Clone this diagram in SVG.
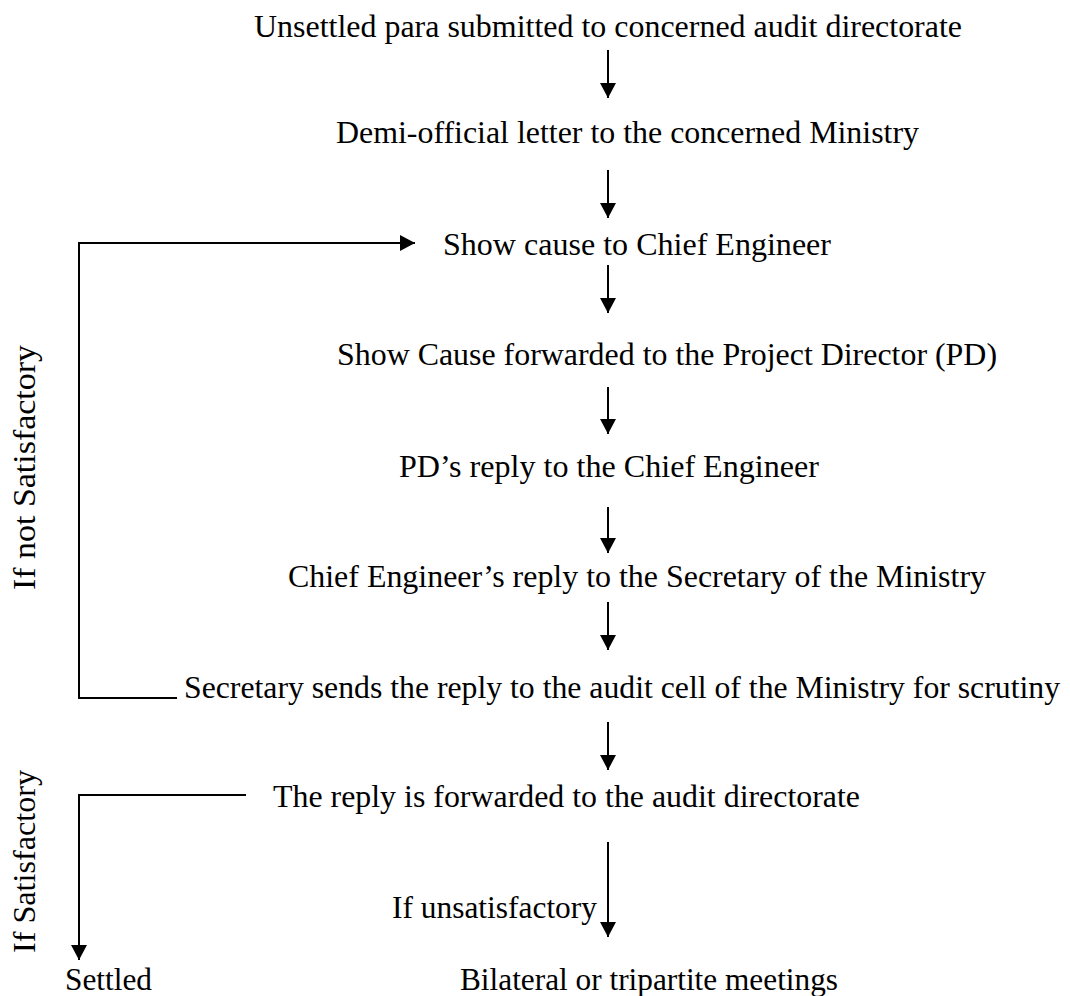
<svg xmlns="http://www.w3.org/2000/svg" width="1070" height="996" viewBox="0 0 1070 996">
<style>
text{font-family:"Liberation Serif","Times New Roman",serif;font-size:32px;fill:#000}
.c line,.c polyline{stroke:#000;stroke-width:2;fill:none}
</style>
<defs>
<marker id="ah" viewBox="0 0 15 16" refX="15" refY="8" markerWidth="15" markerHeight="16" markerUnits="userSpaceOnUse" orient="auto">
<path d="M0,0 L15,8 L0,16 Z" fill="#000"/>
</marker>
</defs>
<rect width="1070" height="996" fill="#fff"/>
<g id="n1"><text x="254" y="37" textLength="708" lengthAdjust="spacingAndGlyphs">Unsettled para submitted to concerned audit directorate</text></g>
<g id="n2"><text x="336" y="143" textLength="583" lengthAdjust="spacingAndGlyphs">Demi-official letter to the concerned Ministry</text></g>
<g id="n3"><text x="443" y="255" textLength="388" lengthAdjust="spacingAndGlyphs">Show cause to Chief Engineer</text></g>
<g id="n4"><text x="337" y="365" textLength="660" lengthAdjust="spacingAndGlyphs">Show Cause forwarded to the Project Director (PD)</text></g>
<g id="n5"><text x="399" y="477" textLength="420" lengthAdjust="spacingAndGlyphs">PD’s reply to the Chief Engineer</text></g>
<g id="n6"><text x="288" y="587" textLength="698" lengthAdjust="spacingAndGlyphs">Chief Engineer’s reply to the Secretary of the Ministry</text></g>
<g id="n7"><text x="184" y="698" textLength="876" lengthAdjust="spacingAndGlyphs">Secretary sends the reply to the audit cell of the Ministry for scrutiny</text></g>
<g id="n8"><text x="273" y="807" textLength="587" lengthAdjust="spacingAndGlyphs">The reply is forwarded to the audit directorate</text></g>
<g id="n9"><text x="65" y="990" textLength="87" lengthAdjust="spacingAndGlyphs">Settled</text></g>
<g id="n10"><text x="460" y="990" textLength="378" lengthAdjust="spacingAndGlyphs">Bilateral or tripartite meetings</text></g>
<g id="connectors" class="c">
<line x1="608" y1="50" x2="608" y2="98" marker-end="url(#ah)"/>
<line x1="608" y1="170" x2="608" y2="218" marker-end="url(#ah)"/>
<line x1="608" y1="265" x2="608" y2="313" marker-end="url(#ah)"/>
<line x1="608" y1="387" x2="608" y2="434" marker-end="url(#ah)"/>
<line x1="608" y1="507" x2="608" y2="553" marker-end="url(#ah)"/>
<line x1="608" y1="602" x2="608" y2="650" marker-end="url(#ah)"/>
<line x1="608" y1="722" x2="608" y2="770" marker-end="url(#ah)"/>
<line x1="608" y1="842" x2="608" y2="937" marker-end="url(#ah)"/>
<polyline points="177,698 79,698 79,243 415,243" marker-end="url(#ah)"/>
<polyline points="246,795 79,795 79,960" marker-end="url(#ah)"/>
</g>
<g id="labels">
<text x="392" y="918" textLength="205" lengthAdjust="spacingAndGlyphs">If unsatisfactory</text>
<text transform="translate(35,590) rotate(-90)" textLength="245" lengthAdjust="spacingAndGlyphs">If not Satisfactory</text>
<text transform="translate(35,953) rotate(-90)" textLength="183" lengthAdjust="spacingAndGlyphs">If Satisfactory</text>
</g>
</svg>
